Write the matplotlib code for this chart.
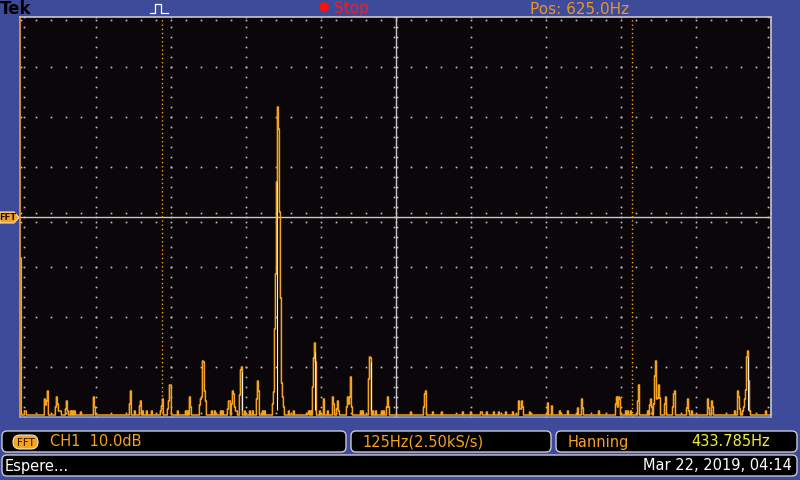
import matplotlib
matplotlib.use("Agg")
import matplotlib.pyplot as plt
from matplotlib.patches import FancyBboxPatch, Circle, Polygon
import numpy as np

# --- datos del espectro ---
span_hz = 1250.0
n_bins = 751
floor_db = -39.6

freq_hz = [0.0, 6.7, 8.3, 40.0, 41.7, 43.3, 45.0, 58.3, 60.0, 61.7, 63.3, 65.0, 66.7,
           75.0, 76.7, 78.3, 83.3, 86.7, 90.0, 100.0, 121.7, 123.3, 181.7, 183.3, 190.0,
           198.3, 200.0, 203.3, 210.0, 218.3, 233.3, 235.0, 236.7, 245.0, 246.7, 248.3,
           250.0, 261.7, 275.0, 278.3, 281.7, 283.3, 298.3, 300.0, 301.7, 303.3, 305.0,
           306.7, 308.3, 318.3, 323.3, 333.3, 336.7, 345.0, 346.7, 348.3, 351.7, 353.3,
           355.0, 356.7, 358.3, 360.0, 365.0, 366.7, 368.3, 373.3, 381.7, 386.7, 393.3,
           395.0, 396.7, 403.3, 406.7, 420.0, 421.7, 423.3, 425.0, 426.7, 428.3, 430.0,
           431.7, 433.3, 435.0, 436.7, 438.3, 446.7, 455.0, 478.3, 480.0, 483.3, 486.7,
           488.3, 490.0, 491.7, 498.3, 505.0, 511.7, 520.0, 521.7, 526.7, 528.3, 530.0,
           543.3, 545.0, 546.7, 548.3, 550.0, 551.7, 566.7, 570.0, 580.0, 581.7, 583.3,
           586.7, 591.7, 601.7, 605.0, 610.0, 611.7, 613.3, 650.0, 671.7, 673.3, 675.0,
           686.7, 701.7, 736.7, 750.0, 766.7, 768.3, 776.7, 788.3, 796.7, 808.3, 820.0,
           830.0, 831.7, 833.3, 835.0, 836.7, 848.3, 878.3, 885.0, 898.3, 911.7, 928.3,
           935.0, 936.7, 963.3, 991.7, 993.3, 995.0, 996.7, 998.3, 1008.3, 1011.7, 1016.7,
           1028.3, 1030.0, 1045.0, 1048.3, 1050.0, 1051.7, 1055.0, 1056.7, 1058.3, 1060.0,
           1061.7, 1063.3, 1065.0, 1073.3, 1075.0, 1086.7, 1088.3, 1090.0, 1110.0, 1111.7,
           1113.3, 1118.3, 1145.0, 1146.7, 1151.7, 1153.3, 1190.0, 1195.0, 1196.7, 1198.3,
           1203.3, 1205.0, 1206.7, 1208.3, 1210.0, 1211.7, 1213.3, 1215.0, 1241.7]
level_db = [-8.2, -38.8, -38.8, -36.4, -37.6, -36.8, -34.8, -38.0, -36.0, -37.4, -38.8, -38.8, -38.8,
            -38.4, -36.8, -38.8, -38.8, -38.8, -38.8, -39.0, -36.0, -38.0, -37.4, -34.8, -38.8,
            -37.8, -36.8, -38.8, -38.8, -38.8, -38.8, -37.8, -36.4, -38.4, -36.8, -33.6,
            -33.6, -38.8, -38.8, -38.8, -36.0, -38.0, -37.6, -36.4, -36.0, -28.8, -29.0,
            -34.8, -36.8, -38.8, -38.8, -38.8, -38.8, -38.4, -36.8, -36.8, -37.4, -34.8,
            -35.4, -38.0, -38.8, -38.8, -35.6, -30.6, -30.0, -38.8, -38.8, -38.8, -36.4,
            -32.8, -34.8, -38.8, -38.8, -37.4, -35.0, -22.4, -11.4, 7.0, 22.0, 17.6,
            1.0, -16.2, -33.2, -36.0, -38.0, -38.8, -38.8, -39.4, -38.8, -38.8, -34.0,
            -28.2, -25.2, -29.0, -38.8, -36.4, -38.8, -36.0, -37.4, -38.4, -36.8, -38.8,
            -38.0, -36.0, -37.4, -36.0, -32.0, -38.0, -38.8, -38.8, -32.4, -28.0, -28.2,
            -38.8, -38.8, -38.8, -38.8, -38.0, -36.0, -38.0, -39.0, -38.0, -35.4, -34.8,
            -39.0, -39.0, -39.0, -39.0, -39.0, -39.0, -39.0, -39.0, -39.0, -39.0, -39.0,
            -36.8, -38.4, -38.4, -36.8, -38.0, -39.0, -37.2, -37.8, -38.8, -38.8, -38.2,
            -36.4, -38.2, -38.8, -37.4, -36.0, -38.0, -36.0, -36.4, -38.8, -38.8, -38.8,
            -36.8, -33.6, -38.8, -37.6, -36.4, -38.0, -37.4, -31.8, -28.8, -36.4,
            -36.2, -33.6, -36.2, -37.4, -36.0, -38.0, -35.4, -34.8, -38.2, -36.4,
            -38.8, -38.8, -36.4, -38.2, -36.8, -38.0, -38.8, -34.8, -36.0, -38.4,
            -38.8, -38.0, -36.4, -34.6, -28.0, -26.8, -32.8, -38.8, -38.8]

# trazo interior blanco (intensidad) en los picos mas altos
inner_hz = [426.7, 490.0, 368.3, 583.3, 1211.7]
inner_top = [7.0, -27.0, -31.0, -29.0, -28.0]

ORANGE = '#f5a21e'
BLUE = '#3e4a9a'
GRAY = '#c8c8c8'

df = span_hz / (n_bins - 1)
bins = np.arange(n_bins) * df
spec = np.full(n_bins, floor_db)
spec[np.round(np.array(freq_hz) / df).astype(int)] = level_db

fig = plt.figure(figsize=(8, 4.8), dpi=100, facecolor=BLUE)

# --- pantalla (area de la reticula) ---
ax = fig.add_axes([20 / 800, 63 / 480, 751 / 800, 400 / 480])
ax.set_facecolor('#0a0609')
ax.set_xlim(-1.4, span_hz)
ax.set_ylim(-40, 40)
ax.set_xticks([]); ax.set_yticks([])
for s in ['top', 'right']:
    ax.spines[s].set_color(GRAY)
ax.spines['bottom'].set_color('#9aa0c8')
ax.spines['left'].set_color(ORANGE)
for s in ax.spines.values():
    s.set_linewidth(1.2)

dot = dict(linestyle='none', marker='s', markersize=1.2, color='#c4c4c4', markeredgewidth=0)
# lineas de division horizontales (puntos cada 1/5 div)
xs = np.arange(0, span_hz + 1, 25.0)
for yv in np.arange(-30, 31, 10):
    if yv == 0:
        continue
    ax.plot(xs, np.full_like(xs, yv), **dot)
# lineas verticales (puntos cada 2 dB)
ys = np.arange(-40, 40.1, 2.0)
for xv in np.arange(125, span_hz, 125):
    if xv == 625:
        continue
    ax.plot(np.full_like(ys, xv), ys, **dot)
# cruz central con marcas
ax.axhline(0, color=GRAY, lw=1)
ax.axvline(625, color=GRAY, lw=1)
ax.plot(xs, np.full_like(xs, 0.9), **dot)
ax.plot(xs, np.full_like(xs, -0.9), **dot)
ax.plot(np.full_like(ys, 625 - 2.5), ys, **dot)
ax.plot(np.full_like(ys, 625 + 2.5), ys, **dot)
# marcas en los bordes
ax.plot(xs, np.full_like(xs, 39.5), **dot)
ax.plot(xs, np.full_like(xs, -39.1), **dot)
ax.plot(np.full_like(ys, 5.0), ys, **dot)
ax.plot(np.full_like(ys, span_hz - 5.0), ys, **dot)

# cursores
for cx in [235.0, 1018.3]:
    ax.axvline(cx, color=ORANGE, lw=1, linestyle=(0, (1, 2)))

ax.step(bins, spec, where='mid', color=ORANGE, lw=1.1)
ax.vlines(inner_hz, -38.5, inner_top, color='#f0f0f0', lw=0.8)

# --- capa de textos y cajas en pixeles ---
ov = fig.add_axes([0, 0, 1, 1], facecolor='none')
ov.set_xlim(0, 800); ov.set_ylim(480, 0)
ov.axis('off')

ov.text(0, 9, 'Tek', color='black', fontsize=12, fontweight='bold', va='center')
ov.plot([150, 155, 155, 161, 161, 168], [13, 13, 4, 4, 13, 13], color='white', lw=0.9)
ov.add_patch(Circle((324, 7), 4.2, color='#ff1010'))
ov.text(334, 9, 'Stop', color='#ff1a1a', fontsize=11, va='center')
ov.text(530, 9, 'Pos: 625.0Hz', color='#e8962a', fontsize=11, va='center')

# marcador FFT a la izquierda
ov.add_patch(Polygon([[0, 212], [14, 212], [19, 217.5], [14, 223], [0, 223]],
                     closed=True, facecolor=ORANGE, edgecolor='#f4e0c0', lw=0.8))
ov.text(8, 218, 'FFT', color='#1a1000', fontsize=6, ha='center', va='center', fontweight='bold')

def box(x0, y0, x1, y1):
    ov.add_patch(FancyBboxPatch((x0, y0), x1 - x0, y1 - y0,
                                boxstyle='round,pad=0,rounding_size=5',
                                facecolor='black', edgecolor='#c8c8d4', lw=1))

box(2, 431, 346, 452)
box(351, 431, 551, 452)
box(556, 431, 797, 452)
box(2, 455, 797, 476)

ov.add_patch(FancyBboxPatch((13, 435), 25, 14, boxstyle='round,pad=0,rounding_size=7',
                            facecolor=ORANGE, edgecolor='#f4e4c8', lw=0.8))
ov.text(25.5, 442.5, 'FFT', color='#2a1600', fontsize=7.5, ha='center', va='center')
ov.text(50, 442, 'CH1  10.0dB', color=ORANGE, fontsize=10.5, va='center')
ov.text(362, 442, '125Hz(2.50kS/s)', color=ORANGE, fontsize=10.5, va='center')
ov.text(568, 442, 'Hanning', color=ORANGE, fontsize=10.5, va='center')
ov.text(770, 442, '433.785Hz', color='#f2ee3a', fontsize=10.5, va='center', ha='right')
ov.text(5, 466, 'Espere...', color='white', fontsize=10.5, va='center')
ov.text(792, 466, 'Mar 22, 2019, 04:14', color='white', fontsize=10.5, va='center', ha='right')

fig.savefig('out.png', dpi=100, facecolor=BLUE)
